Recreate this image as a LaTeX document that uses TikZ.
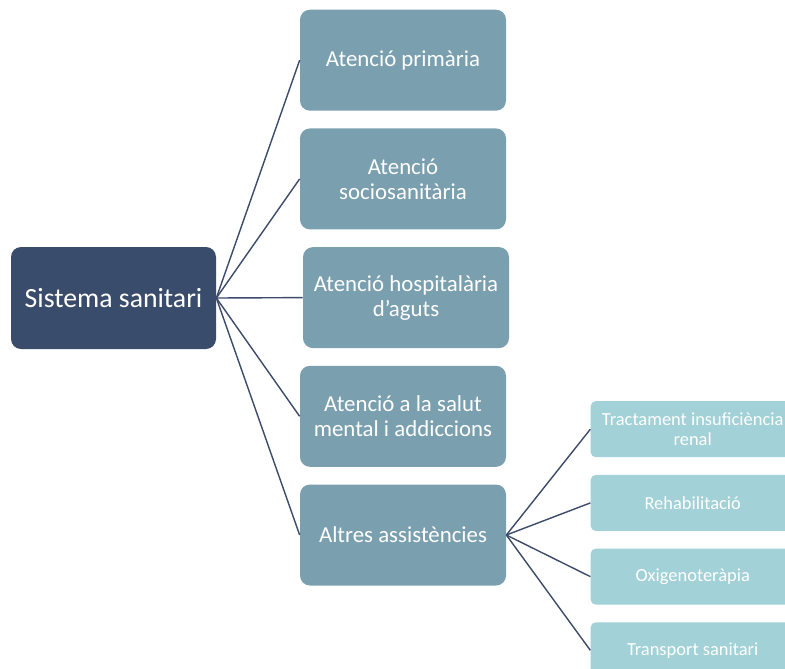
\documentclass[tikz,border=0pt]{standalone}
\usepackage{fontspec}
\setmainfont{Carlito}
\usetikzlibrary{positioning}

\definecolor{rootblue}{HTML}{3A4C6B}
\definecolor{areablue}{HTML}{7A9FAF}
\definecolor{subteal}{HTML}{A2D1D7}
\definecolor{linkblue}{HTML}{3C4B6A}

\begin{document}
\begin{tikzpicture}[
		node distance=0.34cm and 1.68cm,
		every node/.style={text=white, align=center, inner sep=2pt},
		root/.style={rectangle, rounded corners=2mm, fill=rootblue, minimum width=4.1cm, minimum height=2.04cm, font=\fontsize{15.8}{19}\selectfont},
		area/.style={rectangle, rounded corners=2mm, fill=areablue, minimum width=4.12cm, minimum height=2.02cm, font=\fontsize{13}{14.2}\selectfont},
		subarea/.style={rectangle, rounded corners=1mm, fill=subteal, minimum width=4.08cm, minimum height=1.12cm, font=\fontsize{10.5}{11.3}\selectfont},
		link/.style={draw=linkblue, line width=0.8pt}
		]
		\useasboundingbox (0,0) rectangle (15.7,-13.36);
		
		% Root and main areas
		\node[root] at (2.27,-5.96) (sistema) {Sistema sanitari};
		\node[area] at (8.06,-1.204) (primaria) {Atenció primària};
		\node[area, below = of primaria] (socio) {Atenció\\sociosanitària};
		\node[area, below = of socio, xshift = 0.06cm] (hospital) {Atenció hospitalària\\d’aguts};
		\node[area, below = of hospital, xshift = -0.06cm] (mental) {Atenció a la salut\\mental i addiccions};
		\node[area, below = of mental] (altres) {Altres assistències};
		
		% Other care
		\node[subarea, right = of altres, yshift = 2.116cm] (renal) {Tractament insuficiència\\renal};
		\node[subarea, below = of renal] (rehab) {Rehabilitació};
		\node[subarea, below = of rehab] (oxigen) {Oxigenoteràpia};
		\node[subarea, below = of oxigen] (transport) {Transport sanitari};
		
		\draw[link] (sistema.east) -- (primaria.west);
		\draw[link] (sistema.east) -- (socio.west);
		\draw[link] (sistema.east) -- (hospital.west);
		\draw[link] (sistema.east) -- (mental.west);
		\draw[link] (sistema.east) -- (altres.west);
		\draw[link] (altres.east) -- (renal.west);
		\draw[link] (altres.east) -- (rehab.west);
		\draw[link] (altres.east) -- (oxigen.west);
		\draw[link] (altres.east) -- (transport.west);
		
	\end{tikzpicture}
\end{document}
